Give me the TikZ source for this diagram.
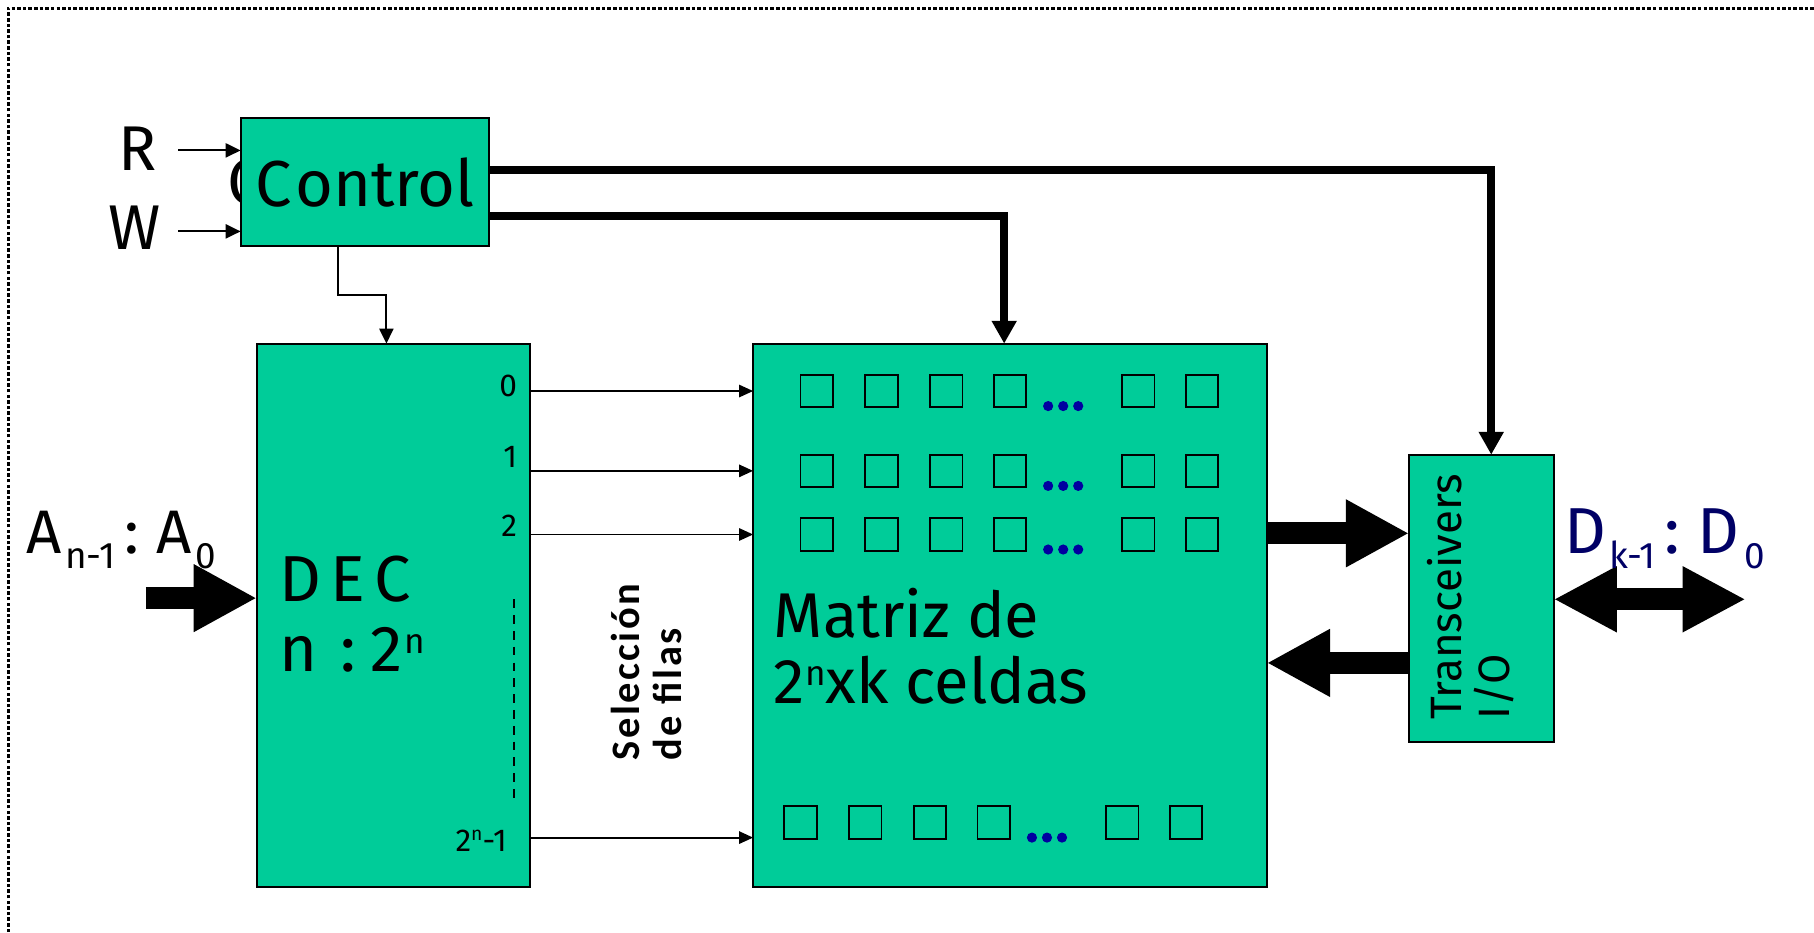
\documentclass[tikz,border=0pt]{standalone}
\usepackage{fontspec}
\setmainfont{Fira Sans}
\newfontfamily\selfont[LetterSpace=6]{Carlito}
\usetikzlibrary{arrows.meta}
\definecolor{boxgreen}{RGB}{0,204,153}
\definecolor{navyd}{RGB}{0,0,102}
\definecolor{dotblue}{RGB}{0,0,160}
\newcommand{\fs}[1]{\fontsize{#1}{#1}\selectfont}
\newcommand{\subtxt}[1]{\raisebox{-9pt}{\fs{21}#1}}
\newcommand{\suptxt}[1]{\raisebox{10pt}{\fs{20}#1}}
\tikzset{
  box/.style={draw=black, fill=boxgreen, line width=1.1pt, inner sep=0pt, outer sep=0pt},
  txt/.style={inner sep=0pt, outer sep=0pt},
  thinarr/.style={line width=1.1pt, -{Triangle[length=8.5pt,width=8pt]}},
  rowarr/.style={line width=1.1pt, -{Triangle[length=8pt,width=7pt]}},
  thickarr/.style={line width=4.6pt, -{Triangle[length=13pt,width=13.5pt]}},
  blockarr/.style={line width=12.5pt, -{Triangle[length=36pt,width=36pt]}},
  dblarr/.style={line width=12.5pt, {Triangle[length=36pt,width=35pt]}-{Triangle[length=36pt,width=35pt]}},
  cell/.style={draw=black, line width=1pt},
  dot/.style={fill=dotblue}
}
\begin{document}
\begin{tikzpicture}[x=0.6586pt,y=-0.6586pt]
\useasboundingbox (0,0) rectangle (1568,806);
% dotted frame
\draw[line width=1.6pt, dash pattern=on 2pt off 1.2pt] (7,830) -- (7,7) -- (1600,7);

% Control
\node[txt, anchor=base west, font=\fs{37}] (ghost) at (197,177) {C};
\node[box, minimum width=141.6pt, minimum height=73.1pt, font=\fs{37}] (ctrl) at (315.5,157.5) {C\hspace{2pt}ontrol};
\node[txt, anchor=base west, font=\fs{36}] (rlab) at (102,147) {R};
\node[txt, anchor=base west, font=\fs{36}] (wlab) at (94,216) {W};
\coordinate (rin) at (154,130);
\coordinate (win) at (154,200);
\draw[thinarr] (rin) -- (rin -| ctrl.west);
\draw[thinarr] (win) -- (win -| ctrl.west);

% DEC
\node[box, minimum width=155.4pt, minimum height=309.5pt] (dec) at (340,532) {};
\node[txt, anchor=base west, font=\fs{37}] (dect1) at (242,520) {D\hspace{5pt}E\hspace{5pt}C};
\node[txt, anchor=base west, font=\fs{37}] (dect2) at (242,580) {n\hspace{13pt}:\hspace{8pt}2\hspace{1pt}\suptxt{n}};
\node[txt, anchor=base east, font=\fs{18}] (l0) at (447,343) {0};
\node[txt, anchor=base east, font=\fs{18}] (l1) at (447,404) {1};
\node[txt, anchor=base east, font=\fs{18}] (l2) at (447,464) {2};
\node[txt, anchor=base east, font=\fs{18}] (ln) at (438,736) {2\raisebox{6.5pt}{\fs{11}n}-1};
\draw[line width=1.3pt, dash pattern=on 5pt off 4pt] (444,518) -- (444,692);

% A input
\node[txt, anchor=base west, font=\fs{35}] (alab) at (23,478) {A\hspace{2pt}\subtxt{n-1}\hspace{5pt}:\hspace{10pt}A\hspace{2pt}\subtxt{0}};
\coordinate (ain) at (126,517);
\draw[blockarr] (ain) -- (ain -| dec.west);

% Matrix
\node[box, minimum width=292.4pt, minimum height=309.5pt] (mat) at (873,532) {};
\foreach \yc in {338,407,462}{
  \foreach \xl in {692,748,804,859,970,1025}{
    \draw[cell] (\xl,\yc-14) rectangle ++(28,28);
  }
  \foreach \xd in {906,919,932}{
    \fill[dot] (\xd,\yc+13) circle (2.9pt);
  }
}
\foreach \xl in {678,734,790,845,956,1011}{
  \draw[cell] (\xl,697) rectangle ++(28,28);
}
\foreach \xd in {892,905,918}{
  \fill[dot] (\xd,724) circle (2.9pt);
}
\node[txt, anchor=base west, font=\fs{36}] (mt1) at (669,551) {Matriz de};
\node[txt, anchor=base west, font=\fs{36}] (mt2) at (669,608) {2\suptxt{n}xk celdas};

% row selection
\foreach \yr in {338,407,462,724}{
  \draw[rowarr] (dec.east |- 0,\yr) -- (mat.west |- 0,\yr);
}
\node[txt, rotate=90, anchor=base west, font=\selfont\bfseries\fs{23}] (sel1) at (553,657) {Selección};
\node[txt, rotate=90, anchor=base west, font=\selfont\bfseries\fs{23}] (sel2) at (589,657) {de filas};

% Control to DEC
\draw[thinarr] (ctrl.south -| 292,0) |- (334,255) -- (dec.north -| 334,0);

% Transceivers
\node[box, minimum width=82.3pt, minimum height=163.3pt] (trans) at (1280.5,517) {};
\node[txt, rotate=90, anchor=base west, font=\fs{25}] (tr1) at (1263,622) {Transceivers};
\node[txt, rotate=90, anchor=base west, font=\fs{25}] (tr2) at (1305,622) {I/O};

% Control thick lines
\draw[thickarr] (ctrl.east |- 0,147) -| (trans.north -| 1289,0);
\draw[thickarr] (ctrl.east |- 0,187) -| (mat.north -| 868,0);

% data arrows
\draw[blockarr] (mat.east |- 0,461) -- (trans.west |- 0,461);
\draw[blockarr] (trans.west |- 0,573) -- (mat.east |- 0,573);
\coordinate (dout) at (1509,518);
\draw[dblarr] (trans.east |- dout) -- (dout);
\node[txt, anchor=base west, font=\fs{37}, text=navyd] (dlab) at (1352,478) {D\hspace{2pt}\subtxt{k-1}\hspace{5pt}:\hspace{10pt}D\hspace{3pt}\subtxt{0}};
\end{tikzpicture}
\end{document}
